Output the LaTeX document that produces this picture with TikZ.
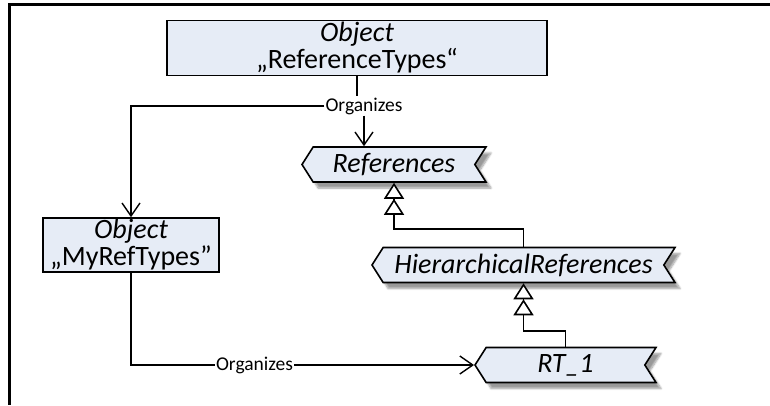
\documentclass[tikz,border=0pt]{standalone}
\usepackage{fontspec}
\setmainfont{Carlito}
\usetikzlibrary{arrows.meta,shapes.symbols,shadows.blur}
\definecolor{nodeblue}{RGB}{230,236,246}
\tikzset{
  objbox/.style={draw, line width=1.6pt, fill=nodeblue, inner sep=0pt, align=center,
    font=\fontsize{28}{27}\selectfont},
  reftype/.style={shape=signal, signal to=west, signal from=east, signal pointer angle=115,
    draw, line width=1.6pt, fill=nodeblue, minimum height=35pt, inner sep=0pt,
    font=\fontsize{28}{30}\selectfont\itshape,
    blur shadow={shadow xshift=5pt, shadow yshift=-6pt, shadow blur steps=8, shadow opacity=40}},
  lbl/.style={fill=white, inner sep=1pt, font=\fontsize{19.5}{21}\selectfont},
  organizes/.style={line width=1.6pt, -{Straight Barb[length=13pt,width=18pt,line width=1.4pt]}},
  subtype/.style={line width=1.6pt,
    -{Triangle[open,length=16pt,width=20pt,fill=white] Triangle[open,length=16pt,width=20pt,fill=white]}},
}

\begin{document}
\begin{tikzpicture}[x=1pt,y=-1pt]
\useasboundingbox (0,0) rectangle (770,405);

% frame
\draw[line width=3pt] (770,4.5) -- (9.5,4.5) -- (9.5,405);

% objects
\node[objbox, minimum width=380pt, minimum height=55pt] (reftypes) at (357,48) {\textit{Object}\\„ReferenceTypes“};
\node[objbox, minimum width=176pt, minimum height=54pt] (myreftypes) at (131,245) {\textit{Object}\\„MyRefTypes"};

% reference types
\node[reftype, minimum width=184pt] (references) at (394,164.5) {References};
\node[reftype, minimum width=303pt] (hierarchical) at (523.5,265) {HierarchicalReferences};
\node[reftype, minimum width=181pt] (rt1) at (565.5,365) {RT\_1};

% organizes
\node[lbl] (org1) at (364,106) {Organizes};
\draw[line width=1.6pt] (reftypes.south) -- (reftypes.south |- org1.north);
\draw[organizes] (org1.west) -| (myreftypes.north);
\draw[organizes] (org1.south) -- (org1.south |- references.north);
\draw[organizes] (myreftypes.south) |- (rt1.west) node[lbl, pos=0.68] (org2) {Organizes};

% subtypes
\draw[subtype] (hierarchical.north) -- ++(0,-18) -| (references.south);
\draw[subtype] (rt1.north) -- ++(0,-16) -| (hierarchical.south);
\end{tikzpicture}
\end{document}
